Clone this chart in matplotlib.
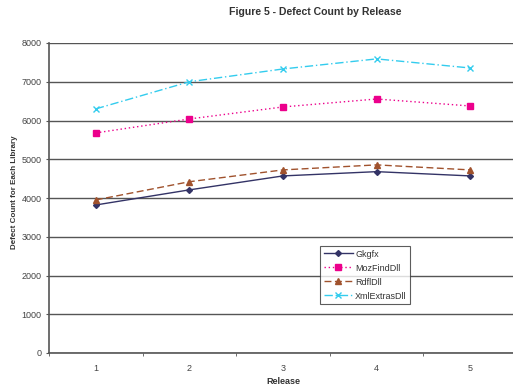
import matplotlib
matplotlib.use("Agg")
import matplotlib.pyplot as plt
from matplotlib.ticker import FixedLocator

plt.rcParams['font.family'] = ['Liberation Sans', 'DejaVu Sans']

releases = [1, 2, 3, 4, 5]
gkgfx = [3820, 4210, 4570, 4680, 4570]
mozfind = [5680, 6040, 6350, 6555, 6375]
rdfl = [3950, 4420, 4725, 4855, 4725]
xmlextras = [6300, 7000, 7330, 7590, 7355]

fig = plt.figure(figsize=(5.13, 3.87), dpi=100)
ax = fig.add_axes([49 / 513, 1 - 353 / 387, 468 / 513, 310 / 387])

ax.plot(releases, gkgfx, color='#333366', lw=1.0, ls='-', marker='D', ms=3,
        label='Gkgfx')
ax.plot(releases, mozfind, color='#EC008C', lw=1.0, ls=(0, (1, 2)), marker='s', ms=5,
        label='MozFindDll')
ax.plot(releases, rdfl, color='#A0522D', lw=1.0, ls=(0, (5, 2.5)), marker='^', ms=5,
        label='RdflDll')
ax.plot(releases, xmlextras, color='#33CCEE', lw=1.0, ls=(0, (6, 2, 1, 2)), marker='x', ms=4,
        label='XmlExtrasDll')

ax.set_xlim(0.5, 5.5)
ax.set_ylim(0, 8000)
ax.set_yticks(range(0, 8001, 1000))
ax.set_xticks(releases)
ax.xaxis.set_minor_locator(FixedLocator([0.5, 1.5, 2.5, 3.5, 4.5, 5.5]))
ax.tick_params(axis='x', which='major', length=0, labelsize=6.5, colors='#444444', pad=8)
ax.tick_params(axis='x', which='minor', length=2.5, color='#555555')
ax.tick_params(axis='y', length=2.5, labelsize=6.5, colors='#444444', color='#555555', pad=3)
ax.grid(axis='y', color='#555555', lw=1.0)
ax.set_axisbelow(True)
for s in ['top', 'right']:
    ax.spines[s].set_visible(False)
ax.spines['left'].set_color('#555555')
ax.spines['left'].set_linewidth(1.2)
ax.spines['bottom'].set_color('#555555')
ax.spines['bottom'].set_linewidth(1.2)

ax.set_xlabel('Release', fontsize=6.5, fontweight='bold', color='#333333', labelpad=3)
ax.set_ylabel('Defect Count for Each Library', fontsize=5.8, fontweight='bold',
              color='#333333')
ax.yaxis.set_label_coords((18 - 49) / 468, 0.52)
fig.text(315 / 513, 1 - 12 / 387, 'Figure 5 - Defect Count by Release', ha='center',
         va='center', fontsize=7.6, fontweight='bold', color='#333333')

leg = ax.legend(loc='upper left', bbox_to_anchor=((320 - 49) / 468, (353 - 246) / 310),
                fontsize=6.5, frameon=True, fancybox=False, borderpad=0.4,
                labelspacing=0.55, handlelength=3.2, handletextpad=0.3,
                borderaxespad=0)
leg.get_frame().set_edgecolor('#333333')
leg.get_frame().set_linewidth(0.8)
for t in leg.get_texts():
    t.set_color('#333333')

fig.savefig('out.png', dpi=100)
